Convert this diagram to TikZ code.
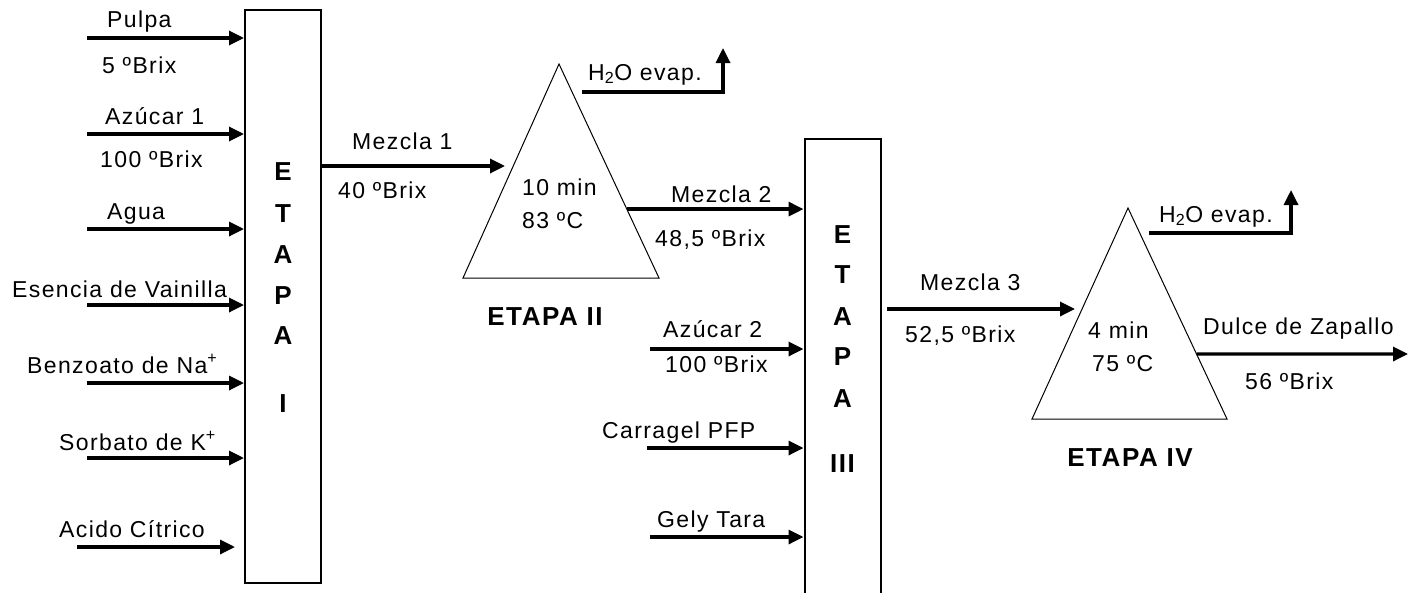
\documentclass[tikz,border=0pt]{standalone}
\usepackage{fontspec}
\setmainfont{Liberation Sans}[LetterSpace=6]
\usetikzlibrary{arrows.meta,calc}
\tikzset{
  lbl/.style={anchor=base west, inner sep=0pt, font=\fontsize{23}{27}\selectfont},
  bl/.style={anchor=base, inner sep=0pt, font=\fontsize{26}{30}\selectfont\bfseries},
  stagebox/.style={draw, line width=2pt, inner sep=0pt, minimum width=76pt},
  tri/.style={draw, line width=1pt, line join=miter},
  flow/.style={line width=3.3pt, -{Triangle[length=15pt,width=14pt]}},
}
\begin{document}
\begin{tikzpicture}[x=1pt,y=-1pt]
\path[use as bounding box] (0,0) rectangle (1415,592);
\clip (0,0) rectangle (1415,592);
\fill[white] (0,0) rectangle (1415,592);

% ---------- ETAPA I ----------
\node[stagebox, minimum height=573pt] (b1) at (283,296.5) {};
\foreach \t/\yy [count=\k] in {E/180,T/222,A/263,P/304,A/344,I/412}
  \node[bl] (bI\k) at (283,\yy) {\t};

% inputs to ETAPA I
\coordinate (iP) at (87,38);
\coordinate (iA) at (87,134);
\coordinate (iW) at (87,229);
\coordinate (iE) at (87,305);
\coordinate (iB) at (87,383);
\coordinate (iS) at (87,458);
\coordinate (iC) at (77,547);
\coordinate (iCe) at (235,547);
\draw[flow] (iP) -- (iP -| b1.west);
\draw[flow] (iA) -- (iA -| b1.west);
\draw[flow] (iW) -- (iW -| b1.west);
\draw[flow] (iE) -- (iE -| b1.west);
\draw[flow] (iB) -- (iB -| b1.west);
\draw[flow] (iS) -- (iS -| b1.west);
\draw[flow] (iC) -- (iCe);

\node[lbl] (tP) at (107,27) {Pulpa};
\node[lbl] (tPb) at (102,73) {5 ºBrix};
\node[lbl] (tA) at (105,124) {Azúcar 1};
\node[lbl] (tAb) at (100,167) {100 ºBrix};
\node[lbl] (tW) at (107,219) {Agua};
\node[lbl] (tE) at (12,297) {Esencia de Vainilla};
\node[lbl] (tB) at (27,373) {Benzoato de Na\textsuperscript{+}};
\node[lbl] (tS) at (59,450) {Sorbato de K\textsuperscript{+}};
\node[lbl] (tC) at (59,537) {Acido Cítrico};

% ---------- ETAPA II ----------
\coordinate (t2a) at (559,64);
\coordinate (t2l) at (463,278);
\coordinate (t2r) at (659,278);
\draw[tri] (t2a) -- (t2l) -- (t2r) -- cycle;
\node[lbl] (t2t) at (522,195) {10 min};
\node[lbl] (t2c) at (522,228) {83 ºC};
\node[bl] (t2n) at (545,325) {ETAPA II};

\coordinate (m1e) at (505,166);
\draw[flow] (m1e -| b1.east) -- (m1e);
\node[lbl] (tm1) at (352,149) {Mezcla 1};
\node[lbl] (tm1b) at (338,198) {40 ºBrix};

\coordinate (h2s) at (582,92);
\coordinate (h2e) at (723,48);
\draw[flow] (h2s) -| (h2e);
\node[lbl] (th2) at (588,80) {H\textsubscript{2}O evap.};

% ---------- ETAPA III ----------
\node[stagebox, minimum height=520pt] (b3) at (842.5,399) {};
\foreach \t/\yy [count=\k] in {E/243,T/283,A/325,P/365,A/407,III/472}
  \node[bl] (bIII\k) at (842.5,\yy) {\t};

\coordinate (m2s) at ($(t2a)!0.678!(t2r)$);
\draw[flow] (m2s) -- (m2s -| b3.west);
\node[lbl] (tm2) at (671,202) {Mezcla 2};
\node[lbl] (tm2b) at (655,246) {48,5 ºBrix};

\coordinate (jA) at (650,349);
\coordinate (jC) at (647,448);
\coordinate (jG) at (650,537);
\draw[flow] (jA) -- (jA -| b3.west);
\draw[flow] (jC) -- (jC -| b3.west);
\draw[flow] (jG) -- (jG -| b3.west);
\node[lbl] (tA2) at (663,337) {Azúcar 2};
\node[lbl] (tA2b) at (665,372) {100 ºBrix};
\node[lbl] (tCP) at (602,438) {Carragel PFP};
\node[lbl] (tGT) at (657,527) {Gely Tara};

% ---------- ETAPA IV ----------
\coordinate (t4a) at (1128,208);
\coordinate (t4l) at (1032,419);
\coordinate (t4r) at (1227,419);
\draw[tri] (t4a) -- (t4l) -- (t4r) -- cycle;
\node[lbl] (t4t) at (1088,338) {4 min};
\node[lbl] (t4c) at (1092,371) {75 ºC};
\node[bl] (t4n) at (1130,466) {ETAPA IV};

\coordinate (m3s) at (887,309);
\coordinate (m3e) at (1075,309);
\draw[flow] (m3s) -- (m3e);
\node[lbl] (tm3) at (920,290) {Mezcla 3};
\node[lbl] (tm3b) at (905,342) {52,5 ºBrix};

\coordinate (h4s) at (1149,233);
\coordinate (h4e) at (1291,190);
\draw[flow] (h4s) -| (h4e);
\node[lbl] (th4) at (1159,222) {H\textsubscript{2}O evap.};

\coordinate (ds) at ($(t4a)!0.692!(t4r)$);
\coordinate (de) at (1408,354);
\draw[flow] (ds) -- (de);
\node[lbl] (tD) at (1203,334) {Dulce de Zapallo};
\node[lbl] (tDb) at (1245,389) {56 ºBrix};
\end{tikzpicture}
\end{document}
